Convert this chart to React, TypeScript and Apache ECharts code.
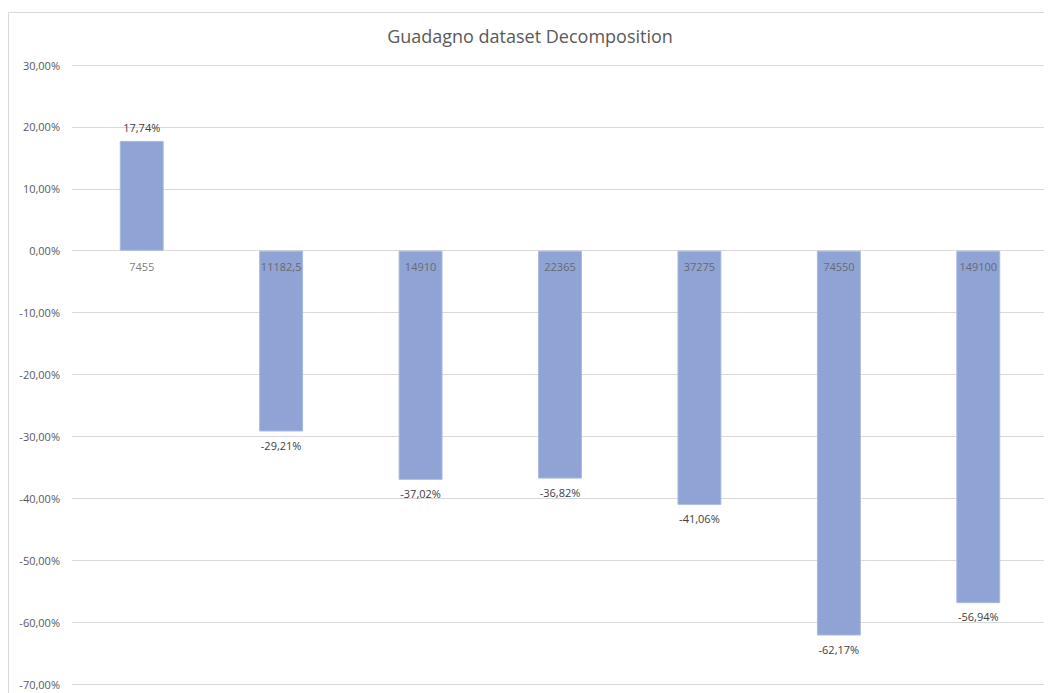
import React, { useEffect, useRef } from "react";
import * as echarts from "echarts";

const categories = ["7455", "11182,5", "14910", "22365", "37275", "74550", "149100"];
const values = [17.74, -29.21, -37.02, -36.82, -41.06, -62.17, -56.94];
const titleText = "Guadagno dataset Decomposition";

const fmt = (v: number) => v.toFixed(2).replace(".", ",") + "%";

export default function App() {
  const ref = useRef<HTMLDivElement>(null);
  useEffect(() => {
    if (!ref.current) return;
    const chart = echarts.init(ref.current, undefined, { renderer: "svg" });
    chart.setOption({
      animation: false,
      textStyle: { fontFamily: "'Open Sans', 'Liberation Sans', sans-serif" },
      title: {
        text: titleText,
        left: "center",
        top: 14,
        textStyle: { fontSize: 18, fontWeight: "normal", color: "#595959", fontFamily: "'Open Sans', sans-serif" },
      },
      graphic: [
        {
          type: "rect",
          shape: { x: 0.5, y: 4.5, width: 1100, height: 1000 },
          style: { fill: "none", stroke: "#d9d9d9", lineWidth: 1 },
          silent: true,
          z: -10,
        },
      ],
      grid: { left: 64, right: 4, top: 57, bottom: 9, containLabel: false, outerBoundsMode: "none" },
      xAxis: {
        type: "category",
        data: categories,
        axisLine: { onZero: true, lineStyle: { color: "#d9d9d9" } },
        axisTick: { show: false },
        axisLabel: { show: false },
      },
      yAxis: {
        type: "value",
        min: -70,
        max: 30,
        interval: 10,
        axisLine: { show: false },
        axisTick: { show: false },
        splitLine: { lineStyle: { color: "#d9d9d9" } },
        axisLabel: { color: "#595959", fontSize: 11, margin: 12, formatter: (v: number) => fmt(v) },
      },
      series: [
        {
          type: "bar",
          barWidth: "31.5%",
          itemStyle: { color: "#8fa3d4", borderColor: "#a9b9e0", borderWidth: 1 },
          data: values.map((v) => ({
            value: v,
            label: {
              show: true,
              position: v >= 0 ? "top" : "bottom",
              distance: 8,
              color: "#404040",
              fontSize: 11,
              formatter: () => fmt(v),
            },
          })),
        },
        {
          type: "scatter",
          symbolSize: 0,
          z: 10,
          silent: true,
          data: categories.map(() => 0),
          label: {
            show: true,
            position: "bottom",
            distance: 10,
            color: "#595959",
            fontSize: 11,
            formatter: (p: any) => p.name,
          },
        },
      ],
    });
    return () => chart.dispose();
  }, []);
  return <div ref={ref} style={{ width: 1044, height: 685 }} />;
}
